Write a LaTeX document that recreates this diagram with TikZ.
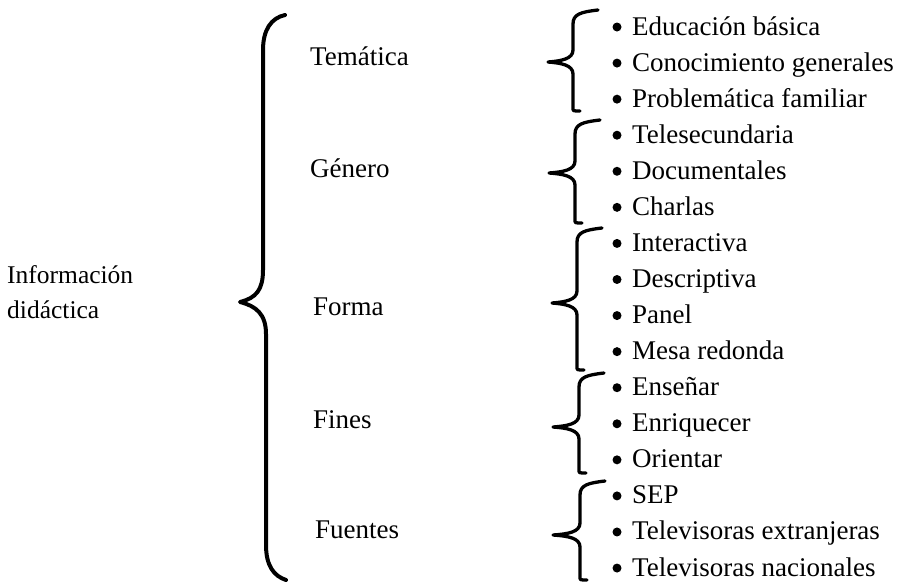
\documentclass[tikz,border=0pt]{standalone}
\usepackage{fontspec}
\setmainfont{Liberation Serif}
\newcommand\smallbrace[5]{%
  \draw[brc] ({#1+25},{#3-2}) .. controls ({#1+8},{#3}) and ({#1},{#3+2}) .. ({#1},{#3+12})
    -- ({#1},{#4-12}) .. controls ({#1},{#4-3}) and ({#1-12},{#4-1}) .. ({#2},{#4})
    .. controls ({#1-12},{#4+1}) and ({#1},{#4+3}) .. ({#1},{#4+12})
    -- ({#1},{#5-3}) .. controls ({#1},{#5}) .. ({#1+7},{#5});}
\begin{document}
\begin{tikzpicture}[x=1pt,y=-1pt,
  font=\fontsize{27}{32}\selectfont,
  lbl/.style={anchor=base west, inner sep=0pt},
  rootlbl/.style={lbl, font=\fontsize{25.5}{30}\selectfont},
  brc/.style={line width=3.3pt, line cap=round, line join=round},
  bigbrc/.style={line width=4pt, line cap=round, line join=round},
  dotb/.style={circle, fill=black, inner sep=0pt, minimum size=9pt}]
\useasboundingbox (0,0) rectangle (904,582);

% root label
\node[rootlbl] (root1) at (7,283) {Información};
\node[rootlbl] (root2) at (7,318) {didáctica};

% big brace
\draw[bigbrc] (285,15) .. controls (271,18) and (263,30) .. (263,50)
  -- (263,270) .. controls (263,290) and (256,298) .. (240,302)
  .. controls (256,306) and (266,314) .. (266,334)
  -- (266,545) .. controls (266,566) and (274,576) .. (286,580);

% middle labels
\node[lbl] (tem) at (310,65) {Temática};
\node[lbl] (gen) at (310,177) {Género};
\node[lbl] (for) at (313,315) {Forma};
\node[lbl] (fin) at (313,428) {Fines};
\node[lbl] (fue) at (315,538) {Fuentes};

% small braces
\smallbrace{573}{548}{12}{62}{111}
\smallbrace{575}{549}{122}{173}{223}
\smallbrace{577}{552}{230}{303}{370}
\smallbrace{579}{553}{375}{427}{473}
\smallbrace{580}{553}{483}{535}{580}

% items
\foreach \t [count=\i from 0] in {Educación básica, Conocimiento generales, Problemática familiar,
  Telesecundaria, Documentales, Charlas,
  Interactiva, Descriptiva, Panel, Mesa redonda,
  Enseñar, Enriquecer, Orientar,
  SEP, Televisoras extranjeras, Televisoras nacionales} {
  \pgfmathsetmacro\yy{27+36.07*\i}
  \node[dotb] (b\i) at (617,\yy) {};
  \node[lbl] (t\i) at (632,\yy+8) {\t};
}
\end{tikzpicture}
\end{document}
